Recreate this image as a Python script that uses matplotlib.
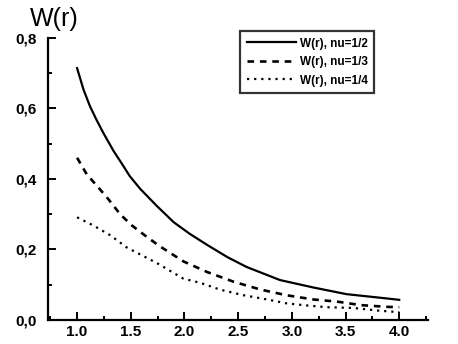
import matplotlib
matplotlib.use("Agg")
import matplotlib.pyplot as plt
from matplotlib.ticker import MultipleLocator, FuncFormatter

plt.rcParams['font.family'] = ['Liberation Sans', 'DejaVu Sans']

# values
r_half = [1.0, 1.06, 1.12, 1.18, 1.245, 1.34, 1.43, 1.49, 1.59, 1.74, 1.90, 2.05, 2.21, 2.40, 2.58, 2.89, 3.2, 3.51, 3.82, 4.0]
w_half = [0.714, 0.653, 0.606, 0.568, 0.530, 0.479, 0.437, 0.408, 0.371, 0.324, 0.277, 0.244, 0.213, 0.178, 0.150, 0.113, 0.092, 0.073, 0.063, 0.057]

r_third = [1.0, 1.09, 1.2, 1.29, 1.4, 1.51, 1.63, 1.76, 1.99, 2.21, 2.46, 2.71, 2.95, 3.2, 3.42, 3.64, 3.89, 4.0]
w_third = [0.46, 0.413, 0.375, 0.343, 0.30, 0.268, 0.24, 0.211, 0.166, 0.136, 0.108, 0.086, 0.070, 0.058, 0.052, 0.042, 0.037, 0.036]

r_quarter = [1.0, 1.15, 1.31, 1.46, 1.75, 1.99, 2.15, 2.33, 2.55, 2.77, 2.95, 3.14, 3.33, 3.57, 3.82, 4.0]
w_quarter = [0.291, 0.268, 0.24, 0.206, 0.16, 0.117, 0.105, 0.086, 0.070, 0.058, 0.047, 0.041, 0.036, 0.034, 0.026, 0.022]

labels = ['W(r), nu=1/2', 'W(r), nu=1/3', 'W(r), nu=1/4']

fig = plt.figure(figsize=(4.58, 3.44), dpi=100)
ax = fig.add_axes([0.105, 0.070, 0.830, 0.820])

ax.plot(r_half, w_half, color='black', lw=1.6, ls='-', label=labels[0])
ax.plot(r_third, w_third, color='black', lw=1.9, ls=(0, (2.5, 2.2)), label=labels[1])
ax.plot(r_quarter, w_quarter, color='black', lw=1.6, ls=(0, (1, 2.2)), label=labels[2])

ax.set_xlim(0.73, 4.27)
ax.set_ylim(0, 0.8)
for s in ['top', 'right']:
    ax.spines[s].set_visible(False)
for s in ['left', 'bottom']:
    ax.spines[s].set_linewidth(1.6)

ax.xaxis.set_major_locator(MultipleLocator(0.5))
ax.xaxis.set_minor_locator(MultipleLocator(0.25))
ax.yaxis.set_major_locator(MultipleLocator(0.2))
ax.yaxis.set_minor_locator(MultipleLocator(0.1))
ax.xaxis.set_major_formatter(FuncFormatter(lambda v, p: f"{v:.1f}"))
ax.yaxis.set_major_formatter(FuncFormatter(lambda v, p: f"{v:.1f}".replace('.', ',')))
ax.tick_params(which='both', direction='in', width=1.4, labelsize=11)
ax.tick_params(which='major', length=6)
ax.tick_params(which='minor', length=3)
ax.tick_params(axis='x', pad=4)
ax.tick_params(axis='y', pad=8)
for t in ax.get_xticklabels() + ax.get_yticklabels():
    t.set_fontweight('bold')

fig.text(0.118, 0.945, 'W(r)', fontsize=18, ha='center', va='center')

leg = ax.legend(loc='upper left', bbox_to_anchor=(0.49, 1.045),
                prop={'size': 8.5, 'weight': 'bold'},
                frameon=True, fancybox=False, edgecolor='black',
                handlelength=4.2, borderpad=0.55, labelspacing=0.55, handletextpad=0.3)
leg.get_frame().set_linewidth(1.6)

fig.savefig('out.png', dpi=100)
